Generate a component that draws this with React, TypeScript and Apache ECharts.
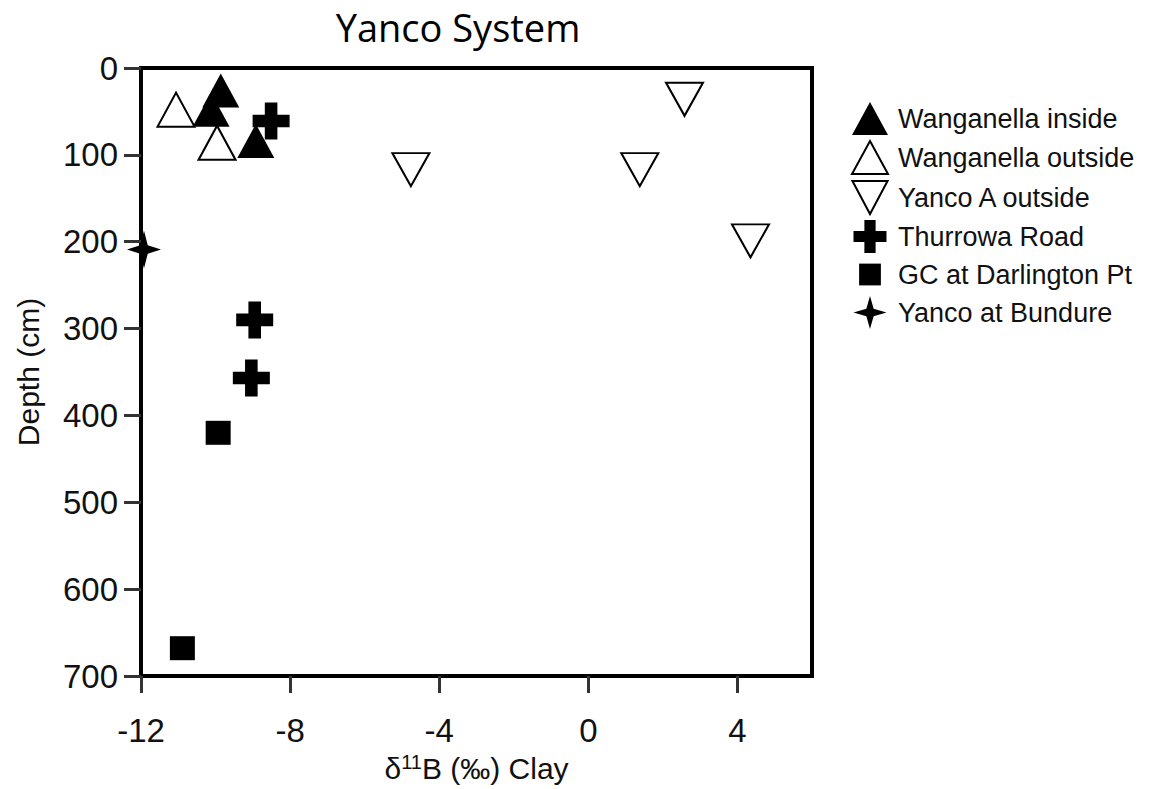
import React, { useEffect, useRef } from "react";
import * as echarts from "echarts";

const titleText = "Yanco System";
const xAxisName = "{a|δ}{s|11}{a|B (‰) Clay}";
const yAxisName = "Depth (cm)";
const xTicks = [-12, -8, -4, 0, 4];

const seriesNames = [
  "Wanganella inside",
  "Wanganella outside",
  "Yanco A outside",
  "Thurrowa Road",
  "GC at Darlington Pt",
  "Yanco at Bundure",
];

const wangInsideX = [-9.86, -10.12, -8.92];
const wangInsideY = [26, 48, 84];
const wangOutsideX = [-11.06, -9.96];
const wangOutsideY = [48, 86];
const yancoAX = [2.58, -4.76, 1.38, 4.35];
const yancoAY = [36, 117, 117, 199];
const thurrowaX = [-8.51, -8.95, -9.04];
const thurrowaY = [61, 290, 357];
const gcX = [-9.93, -10.89];
const gcY = [420, 668];
const bundureX = [-11.92];
const bundureY = [209];

const pair = (xs: number[], ys: number[]) => xs.map((x, i) => [x, ys[i]]);

const INV_TRI = "path://M0,0 L10,0 L5,9.4 Z";
const PLUS = "path://M3.3,0 H6.7 V3.3 H10 V6.7 H6.7 V10 H3.3 V6.7 H0 V3.3 H3.3 Z";
const STAR = "path://M5,0 L6.1,3.9 L10,5 L6.1,6.1 L5,10 L3.9,6.1 L0,5 L3.9,3.9 Z";
const SQUARE_LEGEND = "path://M0,0 M10,10 M1.7,1.7 H8.3 V8.3 H1.7 Z";

export default function App() {
  const ref = useRef<HTMLDivElement>(null);
  useEffect(() => {
    if (!ref.current) return;
    const chart = echarts.init(ref.current, null, { renderer: "svg" });
    const font = "'Liberation Sans', Arial, sans-serif";
    chart.setOption({
      animation: false,
      backgroundColor: "#ffffff",
      title: {
        text: titleText,
        left: 453,
        top: 1,
        textAlign: "center",
        textStyle: {
          fontFamily: "'Open Sans', sans-serif",
          fontSize: 38,
          lineHeight: 42,
          fontWeight: "normal",
          color: "#000",
        },
      },
      legend: {
        orient: "vertical",
        left: 846,
        top: 97,
        itemWidth: 36,
        itemHeight: 33,
        itemGap: 5,
        textStyle: {
          fontFamily: font,
          fontSize: 27,
          color: "#111",
          padding: [0, 0, 0, 5],
        },
        data: [
          { name: seriesNames[0] },
          { name: seriesNames[1] },
          { name: seriesNames[2] },
          { name: seriesNames[3] },
          { name: seriesNames[4], icon: SQUARE_LEGEND },
          { name: seriesNames[5] },
        ],
      },
      grid: {
        left: 141,
        top: 68,
        right: 361,
        bottom: 113,
        show: true,
        borderColor: "#000",
        borderWidth: 4,
        backgroundColor: "transparent",
      },
      xAxis: {
        type: "value",
        min: -12,
        max: 6,
        interval: 4,
        name: xAxisName,
        nameLocation: "middle",
        nameGap: 76,
        nameTextStyle: {
          fontFamily: font,
          color: "#111",
          rich: {
            a: { fontFamily: font, fontSize: 30, color: "#111", lineHeight: 32 },
            s: { fontFamily: font, fontSize: 20, color: "#111", verticalAlign: "top", lineHeight: 32 },
          },
        },
        splitLine: { show: false },
        axisLine: { show: true, onZero: false, lineStyle: { color: "#000", width: 4 } },
        axisTick: {
          show: true,
          inside: false,
          length: 17,
          customValues: xTicks,
          lineStyle: { color: "#333", width: 3 },
        },
        axisLabel: {
          fontFamily: font,
          fontSize: 33,
          color: "#111",
          margin: 38,
          customValues: xTicks,
        },
      },
      yAxis: {
        type: "value",
        inverse: true,
        min: 0,
        max: 700,
        interval: 100,
        name: yAxisName,
        nameLocation: "middle",
        nameGap: 98,
        nameTextStyle: { fontFamily: font, fontSize: 30, color: "#111" },
        splitLine: { show: false },
        axisLine: { show: true, onZero: false, lineStyle: { color: "#000", width: 4 } },
        axisTick: {
          show: true,
          inside: false,
          length: 17,
          lineStyle: { color: "#333", width: 3 },
        },
        axisLabel: {
          fontFamily: font,
          fontSize: 33,
          color: "#111",
          margin: 23,
        },
      },
      series: [
        {
          name: seriesNames[0],
          type: "scatter",
          symbol: "triangle",
          symbolSize: [37, 34],
          itemStyle: { color: "#000", opacity: 1 },
          data: pair(wangInsideX, wangInsideY),
          z: 2,
        },
        {
          name: seriesNames[1],
          type: "scatter",
          symbol: "triangle",
          symbolSize: [37, 34],
          itemStyle: { color: "#fff", borderColor: "#000", borderWidth: 2, opacity: 1 },
          data: pair(wangOutsideX, wangOutsideY),
          z: 2,
        },
        {
          name: seriesNames[2],
          type: "scatter",
          symbol: INV_TRI,
          symbolSize: [37, 33],
          itemStyle: { color: "#fff", borderColor: "#000", borderWidth: 2, opacity: 1 },
          data: pair(yancoAX, yancoAY),
          z: 2,
        },
        {
          name: seriesNames[3],
          type: "scatter",
          symbol: PLUS,
          symbolSize: [37, 37],
          itemStyle: { color: "#000", opacity: 1 },
          data: pair(thurrowaX, thurrowaY),
          z: 3,
        },
        {
          name: seriesNames[4],
          type: "scatter",
          symbol: "rect",
          symbolSize: [25, 24],
          itemStyle: { color: "#000", opacity: 1 },
          data: pair(gcX, gcY),
          z: 2,
        },
        {
          name: seriesNames[5],
          type: "scatter",
          symbol: STAR,
          symbolSize: [34, 38],
          itemStyle: { color: "#000", opacity: 1 },
          data: pair(bundureX, bundureY),
          z: 2,
        },
      ],
    });
    return () => chart.dispose();
  }, []);
  return (
    <div
      ref={ref}
      style={{ position: "absolute", left: 0, top: 0, width: 1173, height: 789 }}
    />
  );
}
